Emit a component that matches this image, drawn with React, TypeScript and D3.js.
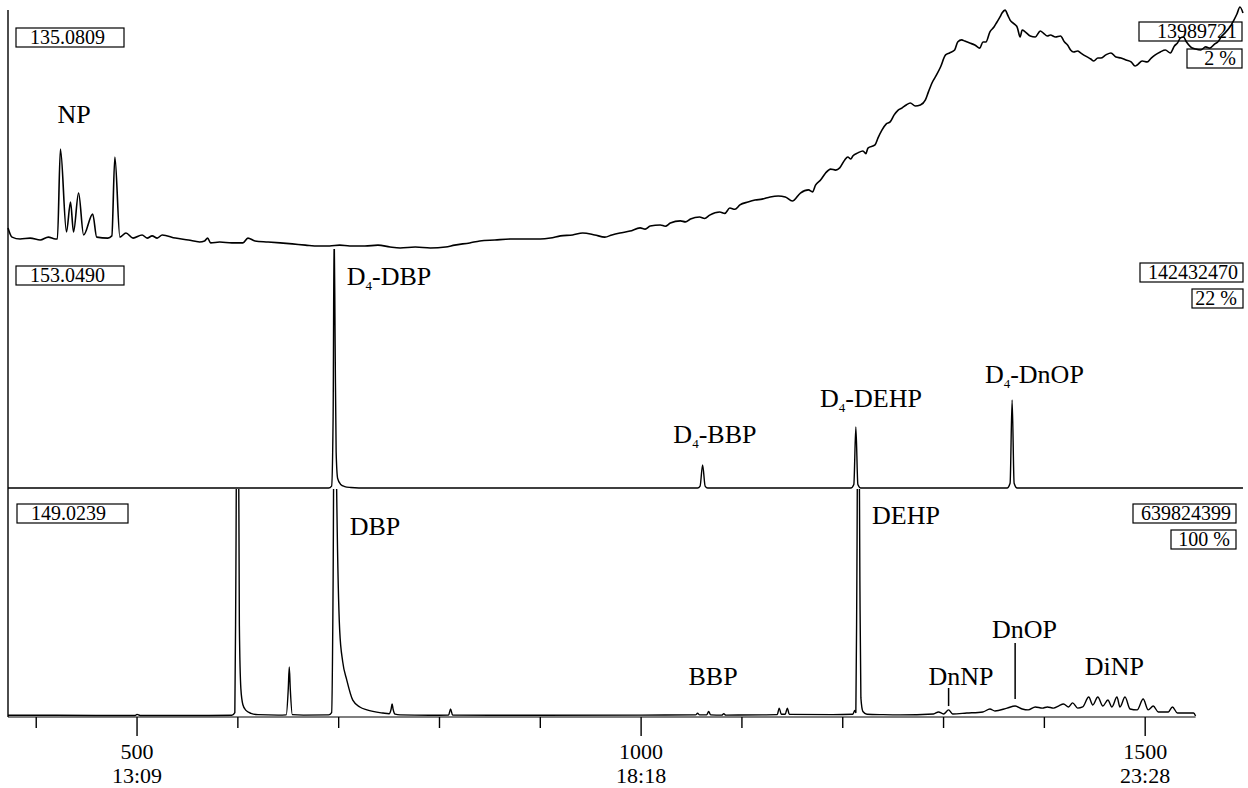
import React from "react";
import * as d3 from "d3";

const W = 1248;
const H = 788;
const FONT = "'Liberation Serif', 'Times New Roman', serif";

// x axis: scan number, with retention time under the major ticks
const scanTicks = [400, 500, 600, 700, 800, 900, 1000, 1100, 1200, 1300, 1400, 1500];
const majorTicks = [500, 1000, 1500];
const timeLabels = ["13:09", "18:18", "23:28"];

// per-trace header boxes (top → bottom)
const massLabels = ["135.0809", "153.0490", "149.0239"];
const maxCounts = ["13989721", "142432470", "639824399"];
const scalePct = ["2 %", "22 %", "100 %"];

// m/z 135.0809 (NP region + rising background), [scan, % of full scale]
const trace135: [number, number][] = [
  [372, 8.3], [376, 4.5], [384, 3.7], [394, 4.1], [404, 3.3], [412, 4.5], [419, 3.7], [421, 3.7],
  [424, 40.9], [430, 6.6], [434, 19.0], [437, 6.6], [442, 22.7], [447, 5.4], [456, 14.0], [460, 4.5],
  [471, 4.1], [475, 5.0], [478, 37.6], [483, 4.5], [489, 6.2], [496, 4.1], [505, 5.4], [510, 4.1],
  [515, 5.0], [520, 4.1], [525, 5.4], [538, 4.1], [551, 3.3], [562, 2.5], [567, 2.9], [570, 4.1],
  [573, 2.1], [582, 2.5], [594, 2.1], [605, 2.1], [610, 4.1], [617, 2.9], [630, 2.5], [642, 2.1],
  [654, 1.7], [667, 1.2], [680, 0.8], [691, 0.8], [701, 1.2], [711, 0.8], [726, 0.8], [739, 1.2],
  [751, 0.4], [761, 0], [776, 0.4], [791, 0], [806, 0.4], [815, 1.2], [830, 2.1], [840, 2.9],
  [855, 3.3], [870, 3.7], [885, 3.7], [900, 3.7], [910, 4.1], [920, 5.0], [932, 5.4], [942, 6.2],
  [954, 5.4], [964, 4.5], [971, 5.4], [979, 6.2], [989, 7.0], [999, 8.3], [1004, 7.8], [1009, 9.1],
  [1019, 9.5], [1024, 9.0], [1029, 10.3], [1039, 11.2], [1044, 10.8], [1049, 12.0], [1058, 12.8],
  [1063, 12.2], [1068, 13.6], [1078, 14.9], [1083, 14.3], [1088, 16.5], [1093, 16.0], [1098, 17.8],
  [1106, 19.0], [1113, 19.8], [1120, 20.2], [1128, 21.1], [1136, 21.5], [1143, 21.1], [1150, 19.4],
  [1158, 22.7], [1166, 24.0], [1170, 23.2], [1173, 26.0], [1178, 28.1], [1183, 31.0], [1188, 32.6],
  [1193, 32.2], [1197, 33.1], [1202, 36.4], [1205, 37.6], [1208, 36.8], [1210, 38.0], [1215, 39.3],
  [1220, 40.1], [1223, 39.0], [1225, 41.3], [1232, 42.6], [1235, 45.5], [1239, 48.8], [1243, 51.2],
  [1247, 52.1], [1251, 55.0], [1255, 57.0], [1259, 57.9], [1263, 59.1], [1267, 59.9], [1272, 58.7],
  [1277, 59.1], [1282, 61.2], [1285, 64.5], [1289, 68.6], [1293, 71.5], [1297, 74.8], [1302, 79.8],
  [1306, 80.6], [1311, 81.8], [1314, 85.1], [1318, 86.0], [1321, 85.5], [1326, 84.7], [1331, 83.9],
  [1336, 82.6], [1339, 85.1], [1342, 85.1], [1346, 89.3], [1350, 91.3], [1353, 93.4], [1356, 95.5],
  [1358, 97.1], [1361, 98.3], [1364, 95.9], [1366, 94.2], [1370, 92.6], [1373, 91.3], [1376, 87.2],
  [1378, 90.1], [1381, 89.3], [1386, 87.6], [1391, 87.2], [1396, 89.7], [1399, 88.8], [1403, 87.6],
  [1406, 88.0], [1411, 87.2], [1416, 87.6], [1420, 85.1], [1423, 83.9], [1426, 81.8], [1429, 81.0],
  [1433, 81.4], [1436, 80.6], [1441, 79.3], [1446, 78.1], [1449, 77.3], [1453, 78.5], [1456, 78.5],
  [1461, 79.8], [1466, 80.6], [1471, 78.9], [1476, 78.5], [1481, 77.7], [1486, 76.9], [1490, 75.2],
  [1492, 75.6], [1497, 77.3], [1502, 76.9], [1506, 78.5], [1510, 79.8], [1515, 81.0], [1520, 81.8],
  [1525, 80.6], [1529, 83.5], [1532, 84.7], [1535, 86.8], [1538, 87.2], [1541, 85.1], [1545, 83.1],
  [1550, 82.2], [1555, 81.8], [1560, 83.1], [1564, 82.6], [1569, 84.3], [1572, 85.1], [1576, 87.6],
  [1579, 88.8], [1584, 91.3], [1588, 94.2], [1591, 96.7], [1594, 99.6], [1597, 97.1],
];

// m/z 153.0490 (deuterated internal standards)
const trace153: [number, number][] = [
  [372, 0], [690, 0], [693, 0.8], [694.5, 30], [695.5, 110], [696.5, 60], [697.5, 15], [699, 4],
  [702, 1.5], [706, 0.6], [712, 0.2], [720, 0], [1056, 0], [1058.5, 0.8], [1061, 9.7], [1063.5, 0.8],
  [1066, 0], [1208, 0], [1211, 1.5], [1213, 25.6], [1215, 1.5], [1218, 0], [1363, 0], [1366, 2],
  [1368, 37], [1370, 2], [1373, 0], [1597, 0],
];

// m/z 149.0239 (phthalates)
const trace149: [number, number][] = [
  [372, 0.3], [420, 0.3], [498, 0.2], [500, 0.7], [503, 0.2], [560, 0.2], [594, 0.3], [597, 1.5],
  [598, 60], [599, 140], [600.5, 140], [601.5, 40], [603, 12], [605, 5], [608, 2.5], [613, 1.2],
  [620, 0.6], [640, 0.4], [648, 0.5], [650, 12], [651, 21.7], [652, 12], [654, 0.6], [665, 0.4],
  [690, 0.5], [693, 1.5], [694.5, 60], [695.5, 140], [697, 140], [698, 100], [701, 38], [704, 24],
  [708, 16], [714, 7], [721, 4], [728, 2.7], [744, 1.3], [750, 1.0], [752, 3], [753, 5.3], [754, 3],
  [756, 0.8], [761, 0.5], [790, 0.3], [809, 0.4], [811, 3.1], [813, 0.4], [850, 0.3], [900, 0.3],
  [1000, 0.4], [1054, 0.5], [1056, 1.2], [1058, 0.5], [1065, 0.5], [1067, 2], [1069, 0.5], [1080, 0.4],
  [1082, 1], [1084, 0.4], [1120, 0.5], [1135, 0.6], [1137, 3.5], [1139, 0.8], [1143, 0.8], [1145, 3.5],
  [1147, 0.7], [1190, 0.6], [1210, 0.8], [1212, 2.5], [1213, 1.5], [1214, 60], [1215, 140], [1216, 140],
  [1217, 60], [1218, 8], [1220, 2], [1224, 0.8], [1240, 0.6], [1257, 0.5], [1290, 0.9], [1295, 1.8],
  [1300, 0.9], [1305, 2.7], [1309, 0.9], [1323, 1.3], [1339, 1.8], [1346, 3.1], [1351, 2.2], [1363, 3.5],
  [1371, 4.4], [1378, 3.1], [1384, 2.7], [1391, 4.0], [1398, 3.5], [1403, 4.0], [1409, 3.5], [1414, 4.4],
  [1419, 5.3], [1424, 4.0], [1428, 5.8], [1433, 3.5], [1438, 4.0], [1444, 8.4], [1448, 4.9], [1453, 8.4],
  [1458, 4.4], [1463, 7.1], [1467, 4.0], [1472, 8.4], [1475, 4.0], [1480, 8.4], [1485, 3.1], [1492, 2.7],
  [1498, 7.5], [1503, 2.7], [1508, 4.4], [1513, 1.8], [1523, 1.8], [1527, 4.0], [1532, 1.3], [1548, 1.3],
  [1550, 0],
];

// peak annotations: anchor in [scan, % level] of their trace
type Label = { pre: string; sub?: string; post?: string; scan: number; level: number };
const labels135: Label[] = [{ pre: "NP", scan: 421, level: 51.7 }];
const labels153: Label[] = [
  { pre: "D", sub: "4", post: "-DBP", scan: 708, level: 85.3 },
  { pre: "D", sub: "4", post: "-BBP", scan: 1032, level: 18.9 },
  { pre: "D", sub: "4", post: "-DEHP", scan: 1177.5, level: 34.0 },
  { pre: "D", sub: "4", post: "-DnOP", scan: 1341, level: 44.1 },
];
const labels149: Label[] = [
  { pre: "DBP", scan: 711, level: 80.1 },
  { pre: "DEHP", scan: 1229, level: 85.0 },
  { pre: "BBP", scan: 1047, level: 13.7 },
  { pre: "DnNP", scan: 1285, level: 13.7 },
  { pre: "DnOP", scan: 1348, level: 34.5 },
  { pre: "DiNP", scan: 1440, level: 18.1 },
];
// marker bars under DnNP / DnOP: [scan, from %, to %]
const markers149: [number, number, number][] = [
  [1305, 4.4, 12.4],
  [1371, 7.5, 32.3],
];

const x = d3.scaleLinear().domain([372, 1600]).range([8, 1246]);

const panels = [
  {
    id: "p135", data: trace135, labels: labels135, markers: [] as [number, number, number][],
    y: d3.scaleLinear().domain([0, 100]).range([248, 6]), clip: [0, 249], sw: 1.6,
    leftBox: { x: 16, y: 28, w: 108 }, box1: { x: 1139, y: 22, w: 103 }, box2: { x: 1187, y: 49, w: 55 },
  },
  {
    id: "p153", data: trace153, labels: labels153, markers: [] as [number, number, number][],
    y: d3.scaleLinear().domain([0, 100]).range([488, 250]), clip: [249, 489], sw: 1.4,
    leftBox: { x: 16, y: 266, w: 108 }, box1: { x: 1140, y: 263, w: 103 }, box2: { x: 1192, y: 289, w: 51 },
  },
  {
    id: "p149", data: trace149, labels: labels149, markers: markers149,
    y: d3.scaleLinear().domain([0, 100]).range([716, 490]), clip: [489, 718], sw: 1.4,
    leftBox: { x: 17, y: 504, w: 111 }, box1: { x: 1133, y: 504, w: 103 }, box2: { x: 1171, y: 530, w: 65 },
  },
];

const BOX_H = 19;

export default function App() {
  const axisY = 717;
  return (
    <svg width={W} height={H} style={{ position: "absolute", left: 0, top: 0, background: "#fff" }}
      fontFamily={FONT}>
      <defs>
        {panels.map((p) => (
          <clipPath id={`clip-${p.id}`} key={p.id}>
            <rect x={0} y={p.clip[0]} width={W} height={p.clip[1] - p.clip[0]} />
          </clipPath>
        ))}
      </defs>

      {/* left frame line */}
      <line x1={8} x2={8} y1={10} y2={axisY} stroke="#000" strokeWidth={1.4} />

      {/* x axis */}
      <line x1={x(372)} x2={x(1550)} y1={axisY} y2={axisY} stroke="#000" strokeWidth={1.2} />
      {scanTicks.map((t) => {
        const major = majorTicks.includes(t);
        return (
          <line key={t} x1={x(t)} x2={x(t)} y1={axisY} y2={axisY + (major ? 19 : 11)}
            stroke="#000" strokeWidth={1.4} />
        );
      })}
      {majorTicks.map((t, i) => (
        <g key={t}>
          <text x={x(t)} y={759} textAnchor="middle" fontSize={22} fill="#000">{t}</text>
          <text x={x(t)} y={783} textAnchor="middle" fontSize={22} fill="#000">{timeLabels[i]}</text>
        </g>
      ))}

      {panels.map((p, i) => {
        const line = d3.line<[number, number]>()
          .x((d) => x(d[0]))
          .y((d) => p.y(d[1]))
          .curve(d3.curveMonotoneX);
        return (
          <g key={p.id}>
            {/* header boxes */}
            <rect x={p.leftBox.x} y={p.leftBox.y} width={p.leftBox.w} height={BOX_H}
              fill="none" stroke="#000" strokeWidth={1.2} />
            <text x={p.leftBox.x + 14} y={p.leftBox.y + 16} fontSize={20}>{massLabels[i]}</text>
            <rect x={p.box1.x} y={p.box1.y} width={p.box1.w} height={BOX_H}
              fill="none" stroke="#000" strokeWidth={1.2} />
            <text x={p.box1.x + p.box1.w - 5} y={p.box1.y + 16} fontSize={20} textAnchor="end">{maxCounts[i]}</text>
            <rect x={p.box2.x} y={p.box2.y} width={p.box2.w} height={BOX_H}
              fill="none" stroke="#000" strokeWidth={1.2} />
            <text x={p.box2.x + p.box2.w - 6} y={p.box2.y + 16} fontSize={20} textAnchor="end">{scalePct[i]}</text>

            {/* chromatogram trace */}
            <path d={line(p.data) ?? ""} fill="none" stroke="#000" strokeWidth={p.sw}
              strokeLinejoin="round" clipPath={`url(#clip-${p.id})`} />

            {/* peak labels */}
            {p.labels.map((l) => (
              <text key={l.pre + (l.post ?? "")} x={x(l.scan)} y={p.y(l.level)} fontSize={26}>
                {l.pre}
                {l.sub && <tspan fontSize={13} dy={5}>{l.sub}</tspan>}
                {l.post && <tspan dy={l.sub ? -5 : 0}>{l.post}</tspan>}
              </text>
            ))}
            {p.markers.map((m) => (
              <line key={m[0]} x1={x(m[0])} x2={x(m[0])} y1={p.y(m[1])} y2={p.y(m[2])}
                stroke="#000" strokeWidth={1.5} />
            ))}
          </g>
        );
      })}
    </svg>
  );
}
